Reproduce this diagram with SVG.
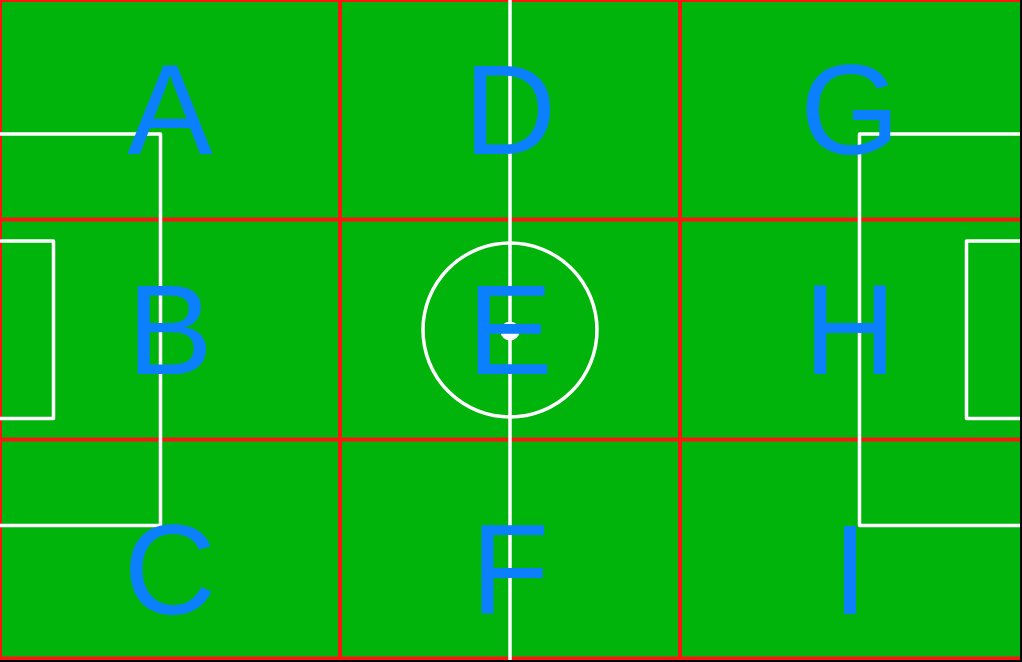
<svg xmlns="http://www.w3.org/2000/svg" width="1022" height="662" viewBox="0 0 1022 662">
  <style>
    .grid { stroke: #ff1414; stroke-width: 4; fill: none; }
    .pitch { stroke: #ffffff; stroke-width: 3.5; fill: none; stroke-linejoin: round; }
    .lbl { font-family: "Liberation Sans", Arial, sans-serif; font-size: 128px; fill: #0a80ff; text-anchor: middle; }
  </style>
  <defs>
    <clipPath id="field-clip"><rect x="0" y="0" width="1020" height="660"/></clipPath>
  </defs>
  <rect x="0" y="0" width="1022" height="662" fill="#000000"/>
  <g clip-path="url(#field-clip)">
    <rect x="0" y="0" width="1020" height="660" fill="#00b40c"/>
    <g id="grid">
      <line class="grid" x1="0" y1="0" x2="1020" y2="0"/>
      <line class="grid" x1="0" y1="0" x2="0" y2="660"/>
      <line class="grid" x1="0" y1="658.5" x2="1020" y2="658.5"/>
      <line class="grid" x1="340" y1="0" x2="340" y2="660"/>
      <line class="grid" x1="680" y1="0" x2="680" y2="660"/>
      <line class="grid" x1="0" y1="219.5" x2="1020" y2="219.5"/>
      <line class="grid" x1="0" y1="439.5" x2="1020" y2="439.5"/>
    </g>
    <g id="pitch-lines">
      <line class="pitch" x1="510" y1="0" x2="510" y2="660"/>
      <circle class="pitch" cx="510" cy="330" r="87"/>
      <circle cx="510" cy="331" r="9.5" fill="#ffffff"/>
      <polyline class="pitch" points="0,134 160.5,134 160.5,525.5 0,525.5"/>
      <polyline class="pitch" points="0,241 53.5,241 53.5,418.5 0,418.5"/>
      <polyline class="pitch" points="1020,134 859.5,134 859.5,525.5 1020,525.5"/>
      <polyline class="pitch" points="1020,241 966.5,241 966.5,418.5 1020,418.5"/>
    </g>
    <g id="connectors"></g>
    <g id="cell-A"><text class="lbl" x="170" y="154">A</text></g>
    <g id="cell-D"><text class="lbl" x="510" y="154">D</text></g>
    <g id="cell-G"><text class="lbl" x="850" y="154">G</text></g>
    <g id="cell-B"><text class="lbl" x="170" y="374">B</text></g>
    <g id="cell-E"><text class="lbl" x="510" y="374">E</text></g>
    <g id="cell-H"><text class="lbl" x="850" y="374">H</text></g>
    <g id="cell-C"><text class="lbl" x="170" y="614">C</text></g>
    <g id="cell-F"><text class="lbl" x="510" y="614">F</text></g>
    <g id="cell-I"><text class="lbl" x="850" y="614">I</text></g>
  </g>
</svg>
